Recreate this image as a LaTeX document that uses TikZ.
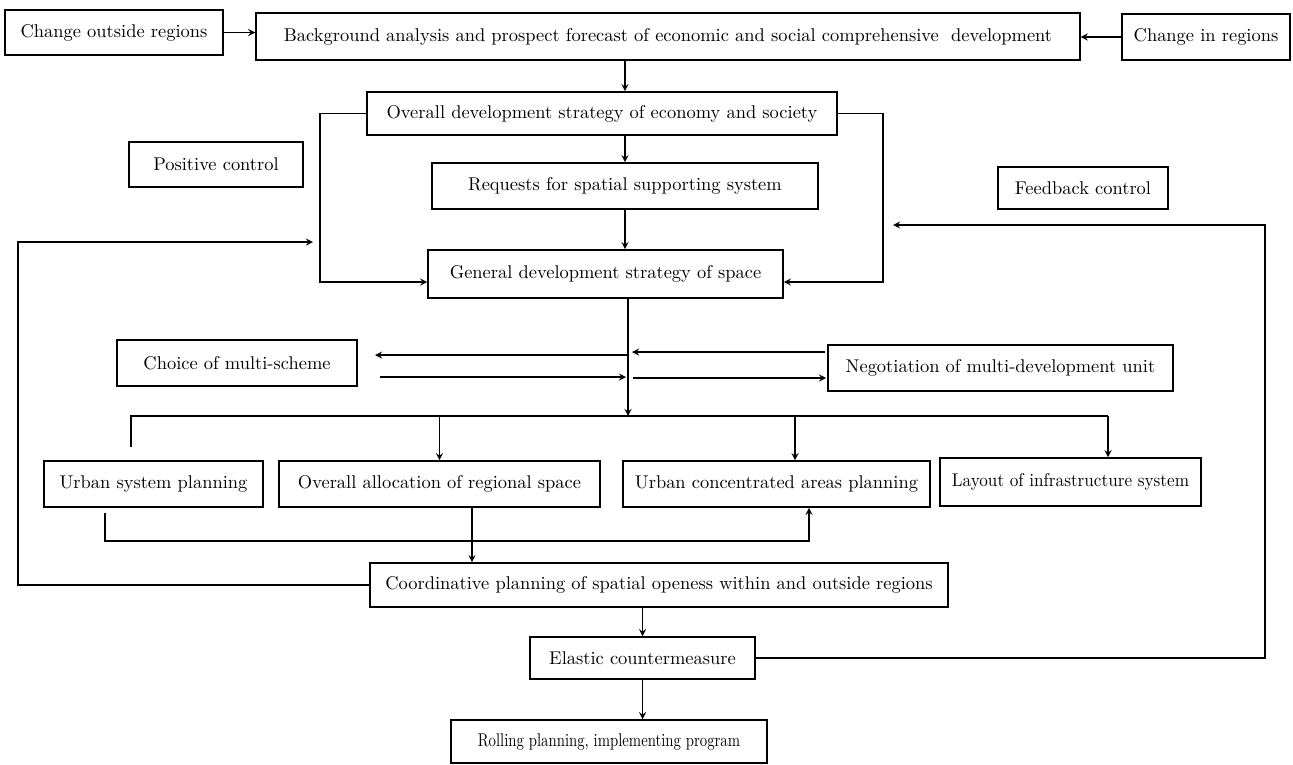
\documentclass[tikz,border=0pt]{standalone}
\usepackage{tikz}

\begin{document}
\begin{tikzpicture}[x=0.02cm,y=-0.02cm,
	box/.style={draw,line width=0.9pt,inner sep=2pt,font=\fontsize{10.5}{12}\selectfont},
	ln/.style={line width=0.8pt},
	arr/.style={line width=0.8pt,-stealth}]
	\useasboundingbox (0,0) rectangle (1293,764);
	% top row
	\node[box,minimum width=4.36cm,minimum height=0.9cm] (cor) at (114,32.5) {Change outside regions};
	\node[box,minimum width=16.48cm,minimum height=0.94cm] (bg) at (668,36.5)
		{Background analysis and prospect forecast of economic and social comprehensive\ \ development};
	\node[box,minimum width=3.36cm,minimum height=0.92cm] (cir) at (1206,37) {Change in regions};
	% strategy
	\node[box,minimum width=9.4cm,minimum height=0.86cm] (ov) at (602,113.5) {Overall development strategy of economy and society};
	\node[box,minimum width=3.48cm,minimum height=0.9cm] (pos) at (216,164.5) {Positive control};
	\node[box,minimum width=7.72cm,minimum height=0.92cm] (req) at (625,186) {Requests for spatial supporting system};
	\node[box,minimum width=3.4cm,minimum height=0.84cm] (fb) at (1083,188) {Feedback control};
	\node[box,minimum width=7.1cm,minimum height=0.96cm] (gen) at (605.5,274) {General development strategy of space};
	% schemes
	\node[box,minimum width=4.8cm,minimum height=0.92cm] (cho) at (237,363) {Choice of multi-scheme};
	\node[box,minimum width=6.9cm,minimum height=0.92cm] (neg) at (1000.5,368) {Negotiation of multi-development unit};
	% planning row
	\node[box,minimum width=4.38cm,minimum height=0.92cm] (usp) at (153.5,484) {Urban system planning};
	\node[box,minimum width=6.42cm,minimum height=0.92cm] (oal) at (439.5,484) {Overall allocation of regional space};
	\node[box,minimum width=6.14cm,minimum height=0.92cm] (uca) at (776.5,484) {Urban concentrated areas planning};
	\node[box,minimum width=5.22cm,minimum height=0.96cm] (lay) at (1070.5,482) {\scalebox{0.93}[1]{Layout of infrastructure system}};
	% bottom
	\node[box,minimum width=11.56cm,minimum height=0.88cm] (coo) at (659,585)
		{Coordinative planning of spatial openess within and outside regions};
	\node[box,minimum width=4.5cm,minimum height=0.84cm] (ela) at (642.5,658) {Elastic countermeasure};
	\node[box,minimum width=6.32cm,minimum height=0.86cm] (rol) at (609,741.5) {\scalebox{0.8}[1]{Rolling planning, implementing program}};

	% free ends
	\coordinate (lb) at (320,282);
	\coordinate (rb) at (883,282);
	\coordinate (lc) at (18,242);
	\coordinate (pc) at (313,242);
	\coordinate (fc) at (1265,225);
	\coordinate (fe) at (893,225);
	\coordinate (bar) at (628,416);
	\coordinate (bl) at (131,447);
	\coordinate (br) at (1108,416);
	\coordinate (ub) at (795,416);
	\coordinate (ua) at (105,513);
	\coordinate (uc) at (809,541);
	\coordinate (oa) at (472,507);
	\coordinate (cha) at (375,355);
	\coordinate (spa) at (628,355);
	\coordinate (spb) at (632,352);
	\coordinate (nga) at (825,352);
	\coordinate (chb) at (380,377);
	\coordinate (spc) at (626,377);
	\coordinate (spd) at (633,378);
	\coordinate (ngb) at (826,378);

	\draw[arr] (cor.east) -- (cor.east -| bg.west);
	\draw[arr] (cir.west) -- (cir.west -| bg.east);
	\draw[arr] (bg.south -| req.north) -- (req.north |- ov.north);
	\draw[arr] (ov.south -| req.north) -- (req.north);
	\draw[arr] (req.south) -- (req.south |- gen.north);
	\draw[arr] (ov.west) -| (lb) -- (lb -| gen.west);
	\draw[arr] (ov.east) -| (rb) -- (rb -| gen.east);
	\draw[arr] (coo.west) -| (lc) -- (pc);
	\draw[arr] (ela.east) -| (fc) -- (fe);
	% spine and schemes
	\draw[arr] (gen.south -| bar) -- (bar);
	\draw[arr] (spa) -- (cha);
	\draw[arr] (nga) -- (spb);
	\draw[arr] (chb) -- (spc);
	\draw[arr] (spd) -- (ngb);
	% distribution bar
	\draw[ln] (bl) |- (br);
	\draw[arr] (br) -- (br |- lay.north);
	\draw[arr] (oal.north |- bar) -- (oal.north);
	\draw[arr] (ub) -- (ub |- uca.north);
	\draw[arr] (ua) |- (uc) -- (uc |- uca.south);
	\draw[arr] (oa) -- (oa |- coo.north);
	\draw[arr] (ela.north |- coo.south) -- (ela.north);
	\draw[arr] (ela.south) -- (ela.south |- rol.north);
\end{tikzpicture}
\end{document}
